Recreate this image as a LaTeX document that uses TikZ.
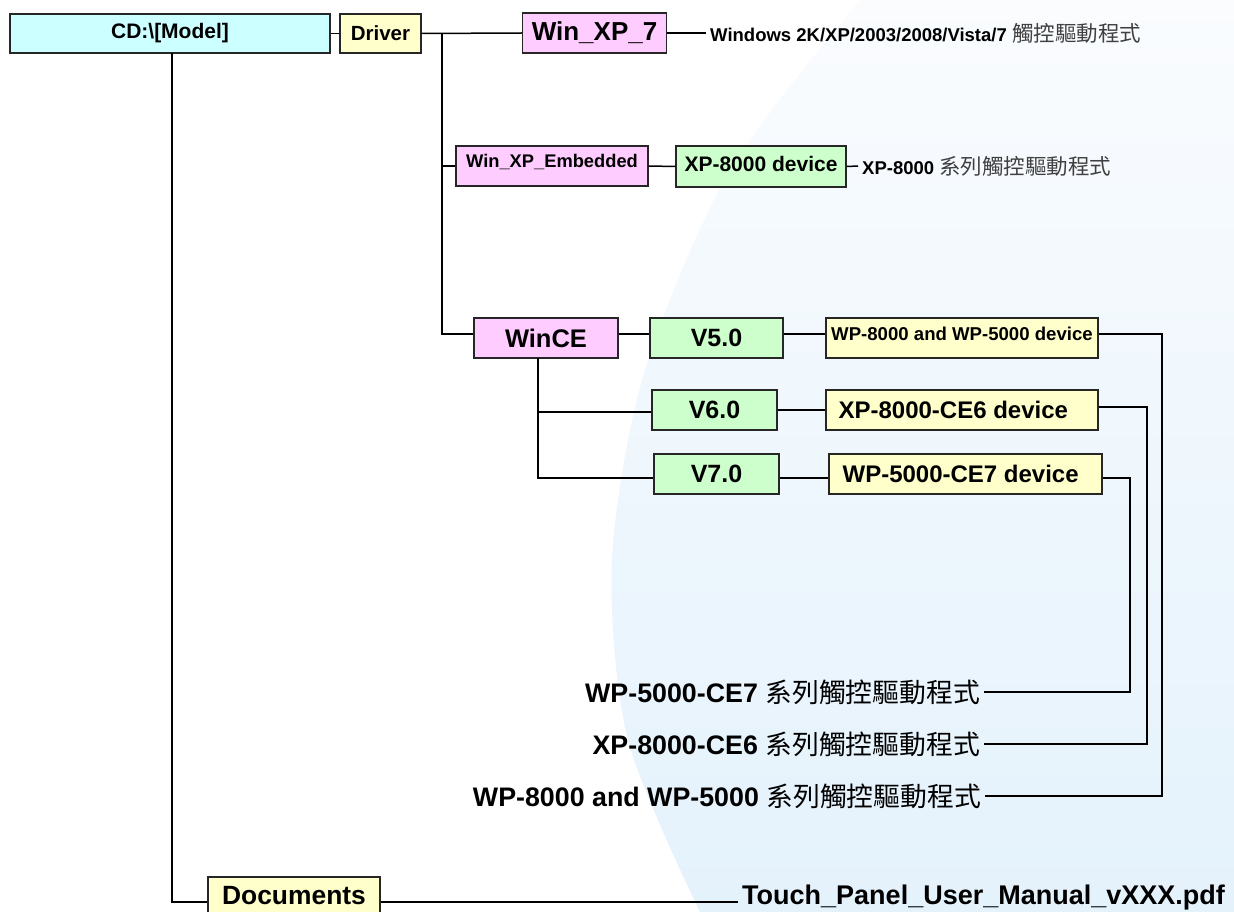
\documentclass[tikz,border=0pt]{standalone}
\usepackage{fontspec}
\setmainfont{Liberation Sans}
\newfontfamily\cjk{Noto Sans CJK TC}
\definecolor{bxcyan}{HTML}{CCFFFF}
\definecolor{bxyellow}{HTML}{FFFFCC}
\definecolor{bxpink}{HTML}{FFCCFF}
\definecolor{bxgreen}{HTML}{CCFFCC}
\definecolor{bgtop}{HTML}{FAFCFE}
\definecolor{bgmid}{HTML}{EFF6FC}
\definecolor{bgbot}{HTML}{E4F2FC}
\definecolor{cjkgrey}{HTML}{404040}
\newcommand\fsz[1]{\fontsize{#1}{#1}\selectfont}
\begin{document}
\begin{tikzpicture}[x=1pt,y=-1pt,
  box/.style={draw=black!85, line width=1.2pt, inner sep=0pt, font=\bfseries},
  btxt/.style={inner sep=0pt, font=\bfseries},
  conn/.style={line width=1.5pt, black},
  lbl/.style={inner xsep=4pt, inner ysep=0pt, font=\bfseries}]
\useasboundingbox (0,0) rectangle (1234,912);
\fill[white] (0,0) rectangle (1234,912);
\shade[top color=bgtop, middle color=bgmid, bottom color=bgbot] plot[smooth] coordinates {(860,0) (730,170) (645,370) (612,560) (628,740) (700,912)} -- (1234,912) -- (1234,0) -- cycle;

% boxes
\node[box, fill=bxcyan, minimum width=320pt, minimum height=39pt] (cd) at (170,33.5) {\fsz{21}CD:\textbackslash[Model]};
\node[box, fill=bxyellow, minimum width=81pt, minimum height=39pt] (drv) at (380.5,33.5) {\fsz{20.5}Driver};
\node[box, fill=bxpink, minimum width=144pt, minimum height=40pt] (xp7) at (594.5,33) {\fsz{26}Win\_XP\_7};
\node[box, fill=bxpink, minimum width=192pt, minimum height=40pt] (xpe) at (552,166) {};
\node[btxt] (xpet) at ([yshift=4pt]xpe.center) {\fsz{18.3}Win\_XP\_Embedded};
\node[box, fill=bxgreen, minimum width=170pt, minimum height=41pt] (xp8) at (761,166.5) {};
\node[btxt] (xp8t) at ([yshift=3pt]xp8.center) {\fsz{21}XP-8000 device};
\node[box, fill=bxpink, minimum width=144pt, minimum height=40pt] (wince) at (546,338) {\fsz{25.5}WinCE};
\node[box, fill=bxgreen, minimum width=133pt, minimum height=40pt] (v5) at (716.5,338) {\fsz{25}V5.0};
\node[box, fill=bxyellow, minimum width=272pt, minimum height=40pt] (wp85) at (962,338) {};
\node[btxt] (wp85t) at ([yshift=4pt]wp85.center) {\fsz{18.6}WP-8000 and WP-5000 device};
\node[box, fill=bxgreen, minimum width=125pt, minimum height=40pt] (v6) at (714.5,410) {\fsz{25}V6.0};
\node[box, fill=bxyellow, minimum width=272pt, minimum height=40pt] (ce6) at (962,410) {};
\node[btxt, anchor=west] (ce6t) at ([xshift=13pt]ce6.west) {\fsz{24}XP-8000-CE6 device};
\node[box, fill=bxgreen, minimum width=125pt, minimum height=40pt] (v7) at (716.5,474) {\fsz{25}V7.0};
\node[box, fill=bxyellow, minimum width=273pt, minimum height=40pt] (ce7) at (965.5,474) {};
\node[btxt, anchor=west] (ce7t) at ([xshift=14pt]ce7.west) {\fsz{24}WP-5000-CE7 device};
\node[box, fill=bxyellow, minimum width=172pt, minimum height=40pt] (docs) at (294,897) {};
\node[btxt] (docst) at ([yshift=1pt]docs.center) {\fsz{26.4}Documents};

% labels
\node[lbl, anchor=west] (xp7l) at (706,33) {\fsz{18.5}Windows 2K/XP/2003/2008/Vista/7 {\cjk\mdseries\color{cjkgrey}\fsz{21.5}觸控驅動程式}};
\node[lbl, anchor=west] (xp8l) at (858,166) {\fsz{18.5}XP-8000 {\cjk\mdseries\color{cjkgrey}\fsz{21.5}系列觸控驅動程式}};
\node[lbl, anchor=east] (b1) at (984,692) {\fsz{26.8}WP-5000-CE7 {\cjk\mdseries\fsz{26.8}系列觸控驅動程式}};
\node[lbl, anchor=east] (b2) at (984,744) {\fsz{26.8}XP-8000-CE6 {\cjk\mdseries\fsz{26.8}系列觸控驅動程式}};
\node[lbl, anchor=east] (b3) at (985,796) {\fsz{26.8}WP-8000 and WP-5000 {\cjk\mdseries\fsz{26.8}系列觸控驅動程式}};
\node[lbl, anchor=west] (touch) at (738,898) {\fsz{27}Touch\_Panel\_User\_Manual\_vXXX.pdf};

% coordinates
\coordinate (t0) at (442,33);
\coordinate (txpe) at (442,166);
\coordinate (t1) at (442,334);
\coordinate (wc0) at (538,358);
\coordinate (wcm) at (538,412);
\coordinate (wcb) at (538,478);
\coordinate (r1) at (1162,334);
\coordinate (r1b) at (1162,796);
\coordinate (r2) at (1147,407);
\coordinate (r2b) at (1147,744);
\coordinate (r3) at (1130,478);
\coordinate (r3b) at (1130,692);
\coordinate (d0) at (172,53);
\coordinate (d1) at (172,902);

% connectors
\draw[conn] (cd.east) -- (drv.west);
\draw[conn] (drv.east) -- (xp7.west);
\draw[conn] (xp7.east) -- (xp7l.west);
\draw[conn] (t0) -- (t1) -- (wince.west |- t1);
\draw[conn] (txpe) -- (xpe.west);
\draw[conn] (xpe.east) -- (xp8.west);
\draw[conn] (xp8.east) -- (xp8l.west);
\draw[conn] (wince.east |- t1) -- (v5.west |- t1);
\draw[conn] (v5.east |- t1) -- (wp85.west |- t1);
\draw[conn] (wc0) -- (wcb) -- (v7.west |- wcb);
\draw[conn] (wcm) -- (v6.west |- wcm);
\draw[conn] (v6.east) -- (ce6.west);
\draw[conn] (v7.east |- wcb) -- (ce7.west |- wcb);
\draw[conn] (wp85.east |- r1) -- (r1) -- (r1b) -- (b3.east |- r1b);
\draw[conn] (ce6.east |- r2) -- (r2) -- (r2b) -- (b2.east |- r2b);
\draw[conn] (ce7.east |- r3) -- (r3) -- (r3b) -- (b1.east |- r3b);
\draw[conn] (d0) -- (d1) -- (docs.west |- d1);
\draw[conn] (docs.east |- d1) -- (touch.west |- d1);
\end{tikzpicture}
\end{document}
